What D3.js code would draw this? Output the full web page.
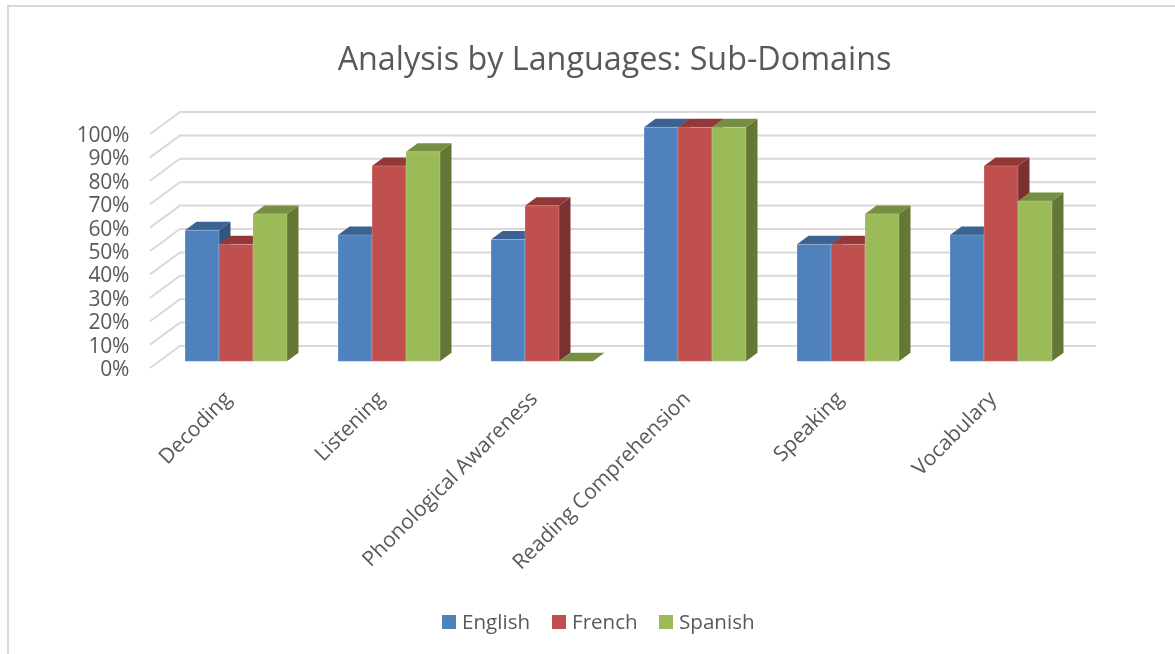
<!DOCTYPE html>
<html lang="en">
<head>
<meta charset="UTF-8"/>
<title>Analysis by Languages: Sub-Domains</title>
<style>
  * { margin:0; padding:0; box-sizing:border-box }
  body { background:#fff; font-family:'Open Sans',sans-serif; overflow:hidden; }
  text { fill:#595959; }
  /* the reference is a soft, scaled-up screenshot */
  #chart { filter:blur(0.4px); display:block; }
</style>
</head>
<body>
<svg id="chart" width="1175" height="654"></svg>
<script src="https://d3js.org/d3.v7.min.js"></script>
<script>
// Values (percent)
const categories = ["Decoding","Listening","Phonological Awareness","Reading Comprehension","Speaking","Vocabulary"];
const seriesNames = ["English","French","Spanish"];
const english = [56,54,52,100,50,54];
const french  = [50,83.5,66.5,100,50,83.5];
const spanish = [63,89.5,0,100,63,68.5];
const seriesValues = [english,french,spanish];
const yTicks = [0,10,20,30,40,50,60,70,80,90,100];

// front, top, side shades per series
const frontColors = ["#4f81bd","#c0504d","#9bbb59"];
const topColors   = ["#3b6292","#933838","#768f42"];
const sideColors  = ["#325580","#7c3131","#647735"];

const svg = d3.select("#chart");

// chart frame, only top and left edges are in the crop
svg.append("path")
  .attr("d","M8,654V6H1175")
  .attr("fill","none").attr("stroke","#d9d9d9").attr("stroke-width",2);

// fake 3D: wall is offset from the front plane, bars sit part way in
const wallDx = 30, wallDy = -22;
const barShiftX = 9.5, barShiftY = -6.7;
const depthX = 11.5, depthY = -8.5;

const x = d3.scaleBand().domain(categories).range([150,1068]).paddingInner(0).paddingOuter(0);
const xInner = d3.scaleBand().domain(seriesNames).range([x.bandwidth()/6, x.bandwidth()*5/6]);
const y = d3.scaleLinear().domain([0,100]).range([368,134]);

// gridlines
const grid = svg.append("g").attr("fill","none").attr("stroke","#d9d9d9").attr("stroke-width",2);
grid.selectAll("path").data(yTicks).join("path")
  .attr("d",d=>`M${x.range()[0]},${y(d)}L${x.range()[0]+wallDx},${y(d)+wallDy}H1096`);

// y tick labels
svg.append("g").selectAll("text").data(yTicks).join("text")
  .attr("x",129).attr("y",d=>y(d)+8)
  .attr("text-anchor","end").attr("font-size",21).attr("letter-spacing",-0.3)
  .text(d=>d+"%");

// bars, painted left to right so neighbours cover the side faces
const bars = svg.append("g");
categories.forEach((cat,ci)=>{
  seriesNames.forEach((s,si)=>{
    const v = seriesValues[si][ci];
    const x0 = x(cat)+xInner(s)+barShiftX, w = xInner.bandwidth();
    const base = y(0)+barShiftY, top = y(v)+barShiftY;
    const g = bars.append("g");
    g.append("path").attr("fill",sideColors[si])
      .attr("d",`M${x0+w},${top}l${depthX},${depthY}V${base+depthY}L${x0+w},${base}Z`);
    g.append("path").attr("fill",topColors[si])
      .attr("d",`M${x0},${top}l${depthX},${depthY}h${w}l${-depthX},${-depthY}Z`);
    if (v>0) {
      g.append("rect").attr("x",x0).attr("y",top).attr("width",w).attr("height",base-top)
        .attr("fill",frontColors[si])
        .attr("stroke","#fff").attr("stroke-opacity",0.2).attr("stroke-width",1);
    }
  });
});

// category labels
svg.append("g").selectAll("text").data(categories).join("text")
  .attr("text-anchor","end").attr("font-size",21)
  .attr("transform",d=>`translate(${x(d)+x.bandwidth()/2+6},${400}) rotate(-45)`)
  .text(d=>d);

// title
svg.append("text").attr("x",614.5).attr("y",70).attr("text-anchor","middle")
  .attr("font-size",32.3).text("Analysis by Languages: Sub-Domains");

// legend
const legendX = [442,552,659];
const legend = svg.append("g").selectAll("g").data(seriesNames).join("g")
  .attr("transform",(d,i)=>`translate(${legendX[i]},615)`);
legend.append("rect").attr("width",14).attr("height",14).attr("fill",(d,i)=>frontColors[i]);
legend.append("text").attr("x",20).attr("y",14).attr("font-size",20.6).text(d=>d);
</script>
</body>
</html>
